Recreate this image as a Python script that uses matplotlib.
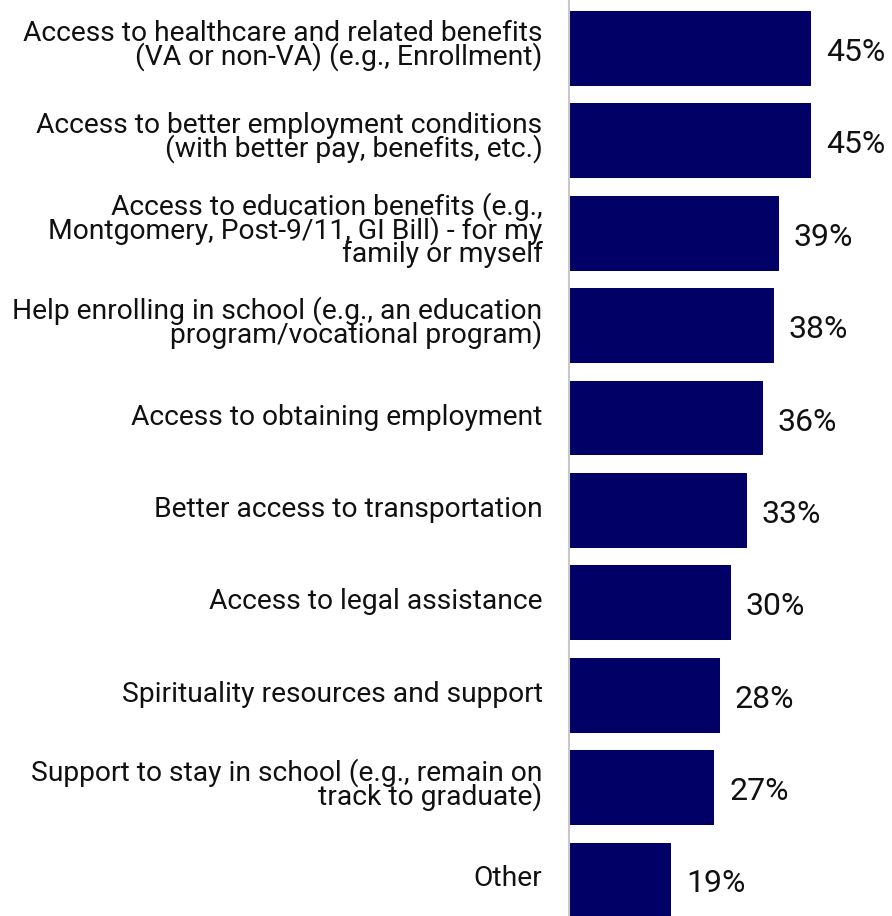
import matplotlib.pyplot as plt
from matplotlib.transforms import ScaledTranslation

plt.rcParams['font.family'] = ['Roboto', 'DejaVu Sans']

categories = [
    'Access to healthcare and related benefits\n(VA or non-VA) (e.g., Enrollment)',
    'Access to better employment conditions\n(with better pay, benefits, etc.)',
    'Access to education benefits (e.g.,\nMontgomery, Post-9/11, GI Bill) - for my\nfamily or myself',
    'Help enrolling in school (e.g., an education\nprogram/vocational program)',
    'Access to obtaining employment',
    'Better access to transportation',
    'Access to legal assistance',
    'Spirituality resources and support',
    'Support to stay in school (e.g., remain on\ntrack to graduate)',
    'Other',
]
values = [45, 45, 39, 38, 36, 33, 30, 28, 27, 19]
value_labels = ['45%', '45%', '39%', '38%', '36%', '33%', '30%', '28%', '27%', '19%']

fig = plt.figure(figsize=(8.92, 9.16), dpi=100)
ax = fig.add_axes([569 / 892, 0, 1 - 569 / 892, 1])

ypos = list(range(len(categories)))
bars = ax.barh(ypos, values, height=0.81, color='#000066')

for b, lab in zip(bars, value_labels):
    ax.annotate(lab, xy=(b.get_width(), b.get_y() + b.get_height() / 2),
                xytext=(15, -4), textcoords='offset pixels',
                ha='left', va='center', fontsize=23, color='#111111')

ax.set_xlim(0, 60)
ax.set_ylim(9.39, -0.525)
ax.set_yticks(ypos)
ax.set_yticklabels(categories, fontsize=20.3, color='#111111',
                   linespacing=0.79, ha='right', multialignment='right')
ax.tick_params(axis='y', length=0, pad=19)
ax.set_xticks([])

# nudge category labels up a little
shift = ScaledTranslation(0, 4 / 100, fig.dpi_scale_trans)
for t in ax.get_yticklabels():
    t.set_transform(t.get_transform() + shift)

for s in ['top', 'right', 'bottom']:
    ax.spines[s].set_visible(False)
ax.spines['left'].set_color('#c8c8c8')
ax.spines['left'].set_linewidth(1.5)

fig.savefig('out.png', dpi=100)
